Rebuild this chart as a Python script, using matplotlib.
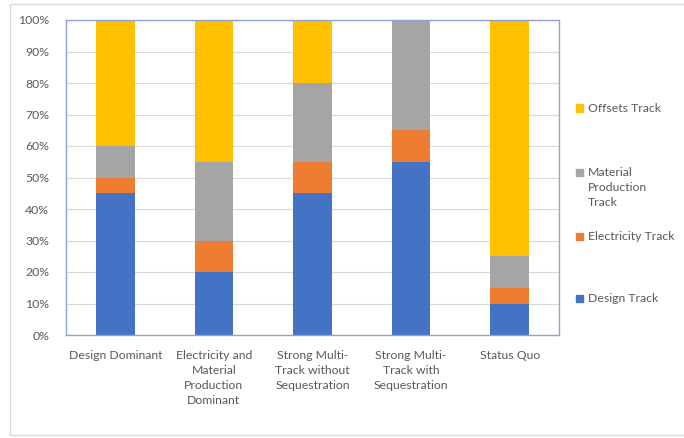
import matplotlib
matplotlib.use("Agg")
import matplotlib.pyplot as plt
from matplotlib.patches import Rectangle
import numpy as np

categories = ["Design Dominant", "Electricity and\nMaterial\nProduction\nDominant",
              "Strong Multi-\nTrack without\nSequestration", "Strong Multi-\nTrack with\nSequestration",
              "Status Quo"]
design = [45, 20, 45, 55, 10]
electricity = [5, 10, 10, 10, 5]
material = [10, 25, 25, 35, 10]
offsets = [40, 45, 20, 0, 75]
series = [("Design Track", design, "#4472C4"),
          ("Electricity Track", electricity, "#ED7D31"),
          ("Material\nProduction\nTrack", material, "#A5A5A5"),
          ("Offsets Track", offsets, "#FFC000")]

plt.rcParams["font.family"] = ["Lato", "DejaVu Sans"]
txt = "#595959"
fs = 8.8

fig = plt.figure(figsize=(6.84, 4.38), dpi=100, facecolor="white")
W, H = 684, 438
ax = fig.add_axes([66 / W, 1 - 335 / H, (559 - 66) / W, (335 - 20) / H])

x = np.arange(len(categories))
bottom = np.zeros(len(categories))
for name, vals, col in series:
    ax.bar(x, vals, bottom=bottom, width=0.39, color=col, zorder=2)
    bottom += np.array(vals)

ax.set_xlim(-0.5, len(categories) - 0.5)
ax.set_ylim(0, 100)
ax.set_yticks(range(0, 101, 10))
ax.set_yticklabels([f"{v}%" for v in range(0, 101, 10)])
ax.set_xticks(x)
ax.set_xticklabels(categories, linespacing=1.45)
ax.tick_params(length=0, labelsize=fs, labelcolor=txt)
ax.tick_params(axis="x", pad=11)
ax.tick_params(axis="y", pad=12)
ax.grid(axis="y", color="#D9D9D9", lw=0.8, zorder=0)
for s in ax.spines.values():
    s.set_color("#8FA2D4")
    s.set_linewidth(1.0)

# legend on the right, reversed order like the original
legend_y = {"Offsets Track": 108, "Material\nProduction\nTrack": 172,
            "Electricity Track": 236, "Design Track": 298}
for name, vals, col in series:
    y = legend_y[name]
    fig.patches.append(Rectangle((576 / W, 1 - (y + 3.5) / H), 7 / W, 7 / H,
                                 transform=fig.transFigure, color=col))
    fig.text(588 / W, 1 - (y - 5) / H, name, fontsize=fs, color=txt, va="top",
             linespacing=1.45)

# outer chart border
fig.patches.append(Rectangle((10 / W, 3 / H), (W - 8) / W, (H - 7) / H, transform=fig.transFigure,
                             fill=False, edgecolor="#D9D9D9", lw=1.0))

fig.savefig("out.png", dpi=100)
